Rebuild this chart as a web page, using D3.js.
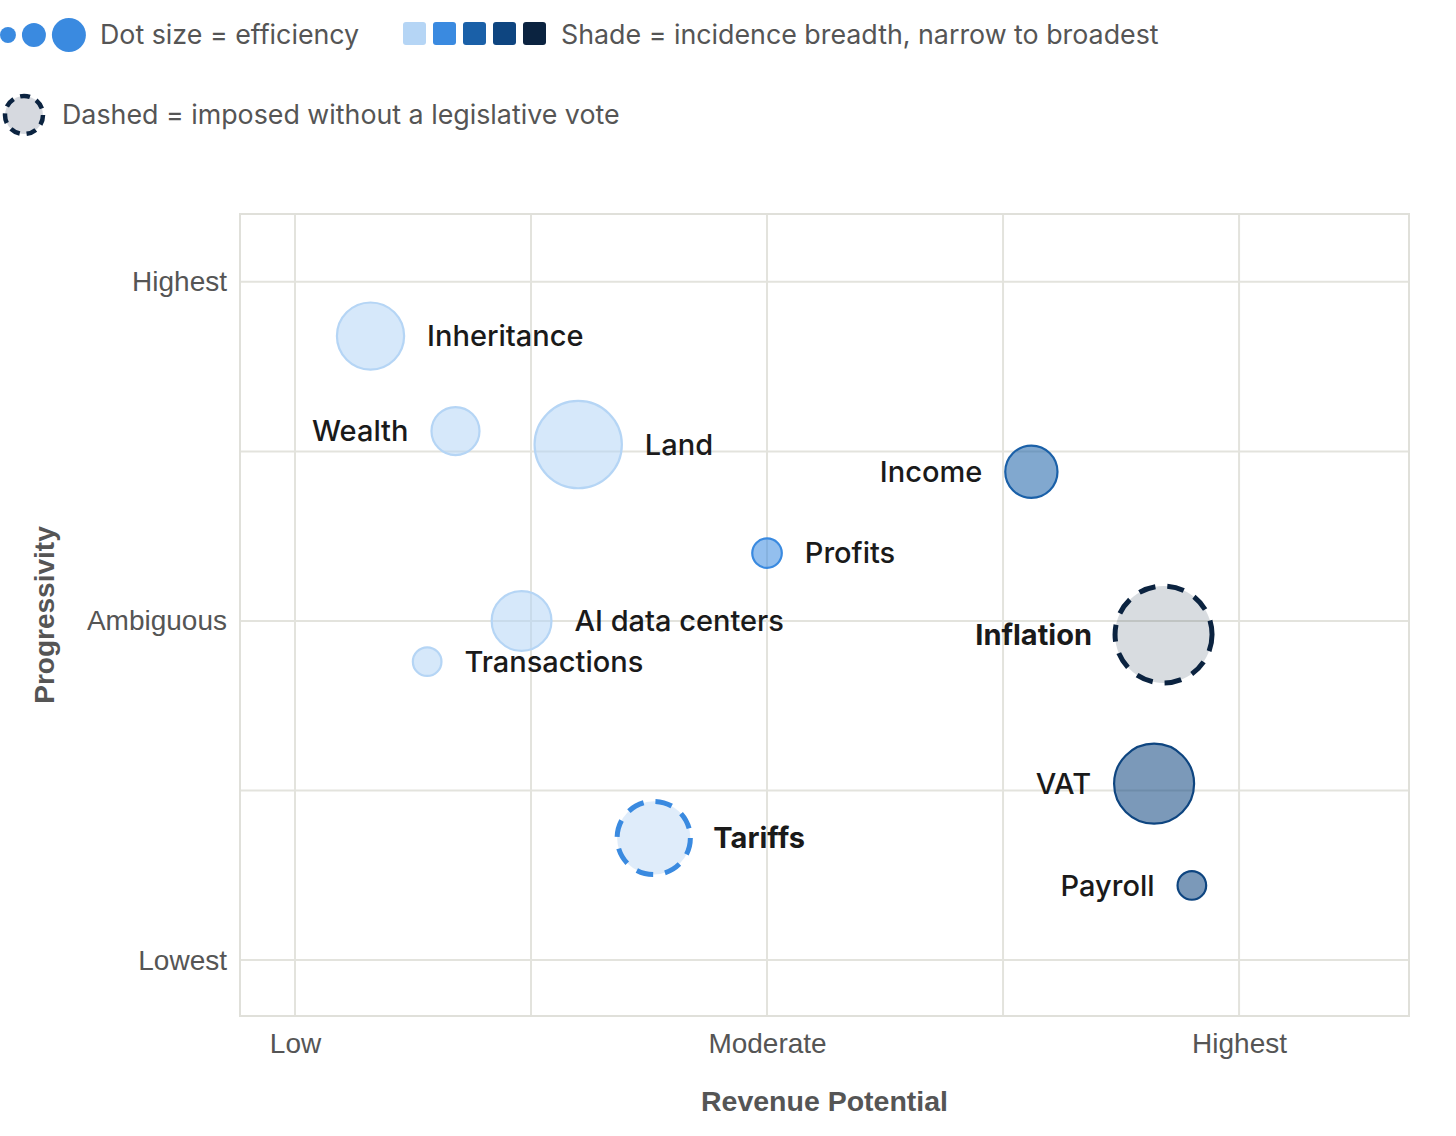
<!DOCTYPE html>
<html>
<head>
<meta charset="utf-8">
<script src="https://cdn.jsdelivr.net/npm/d3@7/dist/d3.min.js"></script>
<style>
  html, body { margin: 0; padding: 0; background: #fff; }
  svg { display: block; }
</style>
</head>
<body>
<svg id="chart" width="1456" height="1136"></svg>
<script>
// ---- Data ----
const taxes       = ["Inheritance", "Wealth", "Land", "Income", "Profits", "AI data centers", "Transactions", "Inflation", "VAT", "Tariffs", "Payroll"];
const revenue     = [1.32, 1.68, 2.20, 4.12, 3.00, 1.96, 1.56, 4.68, 4.64, 2.52, 4.80];   // 1 = Low ... 5 = Highest
const progressivity = [4.68, 4.12, 4.04, 3.88, 3.40, 3.00, 2.76, 2.92, 2.04, 1.72, 1.44]; // 1 = Lowest ... 5 = Highest
const efficiency  = [4.8, 2.45, 8.1, 2.9, 0.93, 3.8, 0.87, 10, 6.8, 5.7, 0.87];
const breadth     = [1, 1, 1, 3, 2, 1, 1, 5, 4, 2, 4];    // incidence breadth, 1 narrow .. 5 broadest
const noVote      = [false, false, false, false, false, false, false, true, false, true, false];
const labelSide   = ["right", "left", "right", "left", "right", "right", "right", "left", "left", "right", "left"];

const xTickVals   = [1, 3, 5];
const xTickLabels = ["Low", "Moderate", "Highest"];
const yTickVals   = [1, 3, 5];
const yTickLabels = ["Lowest", "Ambiguous", "Highest"];
const gridVals    = [1, 2, 3, 4, 5];

const shadeColors = ["#b5d5f5", "#3a8ae0", "#1a60a8", "#0e4580", "#0b2340"];
const legendDotSizes = [0.27, 0.61, 1.23];

// ---- Setup ----
const svg = d3.select("#chart");
const plot = { left: 240, right: 1409, top: 214, bottom: 1016 };

const x = d3.scaleLinear().domain([0.767, 5.72]).range([plot.left, plot.right]);
const y = d3.scaleLinear().domain([0.67, 5.40]).range([plot.bottom, plot.top]);
const r = d3.scaleSqrt().domain([0, 10]).range([0, 48.5]);
const shade = d3.scaleOrdinal().domain([1, 2, 3, 4, 5]).range(shadeColors);

const tickFont = "'Liberation Sans', Arial, Helvetica, sans-serif";
const uiFont = "Inter, 'Noto Sans', sans-serif";

// ---- Grid ----
const grid = svg.append("g");
grid.selectAll("line.v").data(gridVals).join("line")
  .attr("x1", d => x(d)).attr("x2", d => x(d))
  .attr("y1", plot.top).attr("y2", plot.bottom)
  .attr("stroke", "#e3e3dd").attr("stroke-width", 2);
grid.selectAll("line.h").data(gridVals).join("line")
  .attr("x1", plot.left).attr("x2", plot.right)
  .attr("y1", d => y(d)).attr("y2", d => y(d))
  .attr("stroke", "#e3e3dd").attr("stroke-width", 2);
svg.append("rect")
  .attr("x", plot.left).attr("y", plot.top)
  .attr("width", plot.right - plot.left).attr("height", plot.bottom - plot.top)
  .attr("fill", "none").attr("stroke", "#e0e0da").attr("stroke-width", 2);

// ---- Axes ----
const xAxis = d3.axisBottom(x).tickValues(xTickVals)
  .tickFormat((d, i) => xTickLabels[i]).tickSize(0).tickPadding(17);
const gx = svg.append("g").attr("transform", `translate(0,${plot.bottom})`).call(xAxis);
gx.select(".domain").remove();
gx.selectAll("text").attr("font-family", tickFont).attr("font-size", 28).attr("fill", "#555");

const yAxis = d3.axisLeft(y).tickValues(yTickVals)
  .tickFormat((d, i) => yTickLabels[i]).tickSize(0).tickPadding(13);
const gy = svg.append("g").attr("transform", `translate(${plot.left},0)`).call(yAxis);
gy.select(".domain").remove();
gy.selectAll("text").attr("font-family", tickFont).attr("font-size", 28).attr("fill", "#555");

svg.append("text")
  .attr("x", (plot.left + plot.right) / 2).attr("y", 1111)
  .attr("text-anchor", "middle")
  .attr("font-family", tickFont).attr("font-size", 28.5).attr("font-weight", 700)
  .attr("fill", "#555").text("Revenue Potential");
svg.append("text")
  .attr("transform", `translate(54,${(plot.top + plot.bottom) / 2}) rotate(-90)`)
  .attr("text-anchor", "middle")
  .attr("font-family", tickFont).attr("font-size", 28).attr("font-weight", 700)
  .attr("fill", "#555").text("Progressivity");

// ---- Bubbles ----
const data = taxes.map((name, i) => ({
  name, rev: revenue[i], prog: progressivity[i], eff: efficiency[i],
  breadth: breadth[i], dashed: noVote[i], side: labelSide[i]
}));

const bubbles = svg.append("g");
bubbles.selectAll("circle").data(data).join("circle")
  .attr("cx", d => x(d.rev)).attr("cy", d => y(d.prog)).attr("r", d => r(d.eff))
  .attr("fill", d => shade(d.breadth))
  .attr("fill-opacity", d => d.dashed ? 0.16 : 0.55)
  .attr("stroke", d => shade(d.breadth))
  .attr("stroke-width", d => d.dashed ? 5 : 2.2)
  .attr("stroke-dasharray", d => d.dashed ? "17,12" : null);

bubbles.selectAll("text").data(data).join("text")
  .attr("x", d => x(d.rev) + (d.side === "right" ? 1 : -1) * (r(d.eff) + 23))
  .attr("y", d => y(d.prog))
  .attr("dy", "0.35em")
  .attr("text-anchor", d => d.side === "right" ? "start" : "end")
  .attr("font-family", uiFont).attr("font-size", 29)
  .attr("font-weight", d => d.dashed ? 700 : 500)
  .attr("fill", "#1a1a1a")
  .text(d => d.name);

// ---- Legend ----
const leg = svg.append("g");
let cx = 0;
legendDotSizes.forEach((s, i) => {
  const rr = r(s);
  leg.append("circle").attr("cx", cx + rr).attr("cy", 35).attr("r", rr).attr("fill", shadeColors[1]);
  cx += 2 * rr + 6;
});
leg.append("text").attr("x", 100).attr("y", 35).attr("dy", "0.35em")
  .attr("font-family", uiFont).attr("font-size", 26.8).attr("fill", "#555")
  .text("Dot size = efficiency");

leg.selectAll("rect").data(shadeColors).join("rect")
  .attr("x", (d, i) => 403 + i * 30).attr("y", 22)
  .attr("width", 23).attr("height", 23).attr("rx", 3)
  .attr("fill", d => d);
leg.append("text").attr("x", 561).attr("y", 35).attr("dy", "0.35em")
  .attr("font-family", uiFont).attr("font-size", 26.8).attr("fill", "#555")
  .text("Shade = incidence breadth, narrow to broadest");

leg.append("circle").attr("cx", 24).attr("cy", 115).attr("r", 19)
  .attr("fill", "#d6d9df").attr("stroke", shadeColors[4])
  .attr("stroke-width", 4.5).attr("stroke-dasharray", "10,7");
leg.append("text").attr("x", 62).attr("y", 115).attr("dy", "0.35em")
  .attr("font-family", uiFont).attr("font-size", 26.8).attr("fill", "#555")
  .text("Dashed = imposed without a legislative vote");
</script>
</body>
</html>
